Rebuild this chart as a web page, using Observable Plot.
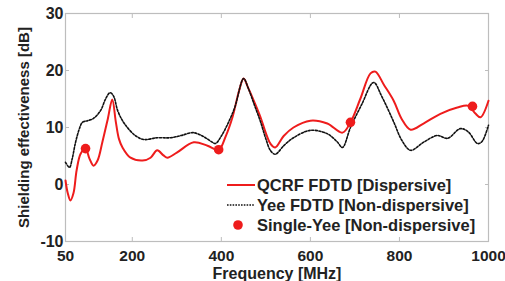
<!DOCTYPE html>
<html>
<head>
<meta charset="utf-8">
<script src="https://cdn.jsdelivr.net/npm/d3@7"></script>
<script src="https://cdn.jsdelivr.net/npm/@observablehq/plot@0.6"></script>
<style>
  html, body { margin: 0; padding: 0; background: #fff; }
  #chart { position: relative; width: 505px; height: 281px; font-family: "Liberation Sans", Arial, sans-serif; }
  #legend { position: absolute; left: 225px; top: 175px; font-weight: bold; font-size: 16.5px; color: #222; }
  #legend .row { display: flex; align-items: center; height: 20px; }
  #legend svg { width: 32px; height: 14px; margin-right: 0px; }
</style>
</head>
<body>
<div id="chart"></div>
<script>
// Shielding effectiveness vs. frequency
const qcrfFreq = [50, 55, 61, 68, 75, 84, 95, 104, 113, 122, 133, 145, 155, 163, 170, 178, 196, 223, 241, 256, 270, 279, 300, 338, 369, 394, 410, 425, 440, 450, 460, 474, 488, 500, 510, 521, 540, 562, 600, 638, 672, 690, 712, 735, 746, 765, 787, 805, 825, 854, 892, 930, 955, 970, 982, 1000];
const qcrfSE = [0.7, -1.5, -2.8, -1.5, 2.5, 5.4, 6.3, 4.5, 3.3, 4.2, 7.5, 11.5, 14.9, 11.0, 8.0, 6.5, 4.7, 4.2, 4.7, 6.0, 5.1, 4.7, 5.6, 7.4, 6.8, 6.1, 8.5, 11.8, 16.5, 18.6, 17.0, 14.5, 11.8, 9.0, 7.2, 6.5, 8.5, 10.0, 11.2, 10.7, 9.1, 10.9, 15.0, 19.5, 19.8, 17.5, 14.7, 11.5, 9.6, 10.7, 12.4, 13.5, 13.8, 12.5, 11.8, 14.7];

const yeeFreq = [50, 59, 65, 72, 80, 88, 100, 113, 129, 140, 150, 158, 167, 178, 189, 205, 225, 256, 286, 310, 337, 360, 380, 387, 400, 413, 430, 450, 460, 474, 488, 500, 510, 521, 540, 562, 600, 638, 660, 672, 690, 715, 742, 760, 787, 805, 825, 854, 885, 908, 937, 955, 975, 985, 1000];
const yeeSE = [3.9, 3.0, 4.5, 7.2, 9.5, 10.9, 11.2, 11.6, 13.0, 15.0, 16.1, 15.5, 13.0, 11.2, 10.0, 8.7, 7.9, 8.2, 8.2, 8.6, 9.1, 8.4, 7.4, 7.2, 8.5, 10.4, 13.5, 18.6, 17.0, 14.0, 11.0, 8.0, 6.0, 5.3, 6.8, 8.2, 9.5, 8.9, 7.5, 6.5, 10.0, 14.0, 17.9, 15.5, 11.0, 7.8, 6.0, 7.4, 8.6, 8.1, 9.8, 9.2, 7.2, 7.5, 10.4];

const singleFreq = [95, 394, 690, 964];
const singleSE = [6.3, 6.1, 10.9, 13.7];

const xTickLabels = [50, 200, 400, 600, 800, 1000];
const xTickMarks = [200, 400, 600, 800];
const yTickLabels = [-10, 0, 10, 20, 30];
const yTickMarks = [0, 10, 20];

const seriesNames = ["QCRF FDTD [Dispersive]", "Yee FDTD [Non-dispersive]", "Single-Yee [Non-dispersive]"];

const qcrf = qcrfFreq.map((f, i) => ({f, se: qcrfSE[i]}));
const yee = yeeFreq.map((f, i) => ({f, se: yeeSE[i]}));
const single = singleFreq.map((f, i) => ({f, se: singleSE[i]}));

const RED = "#ee1c1c";
const TEXT = "#222";
const plain = d => String(d);

const plot = Plot.plot({
  width: 505,
  height: 281,
  marginLeft: 65,
  marginRight: 17,
  marginTop: 13,
  marginBottom: 40,
  style: { fontFamily: "'Liberation Sans', Arial, sans-serif", background: "#fff", overflow: "visible" },
  x: { domain: [50, 1000] },
  y: { domain: [-10, 30] },
  marks: [
    Plot.frame({ stroke: "#bdbdbd", strokeWidth: 1.2 }),
    // inward tick marks on all four sides
    Plot.axisX(xTickMarks, { anchor: "bottom", tickSize: -4, stroke: "#bdbdbd", tickFormat: () => "", label: null }),
    Plot.axisX(xTickMarks, { anchor: "top", tickSize: -4, stroke: "#bdbdbd", tickFormat: () => "", label: null }),
    Plot.axisY(yTickMarks, { anchor: "left", tickSize: -4, stroke: "#bdbdbd", tickFormat: () => "", label: null }),
    Plot.axisY(yTickMarks, { anchor: "right", tickSize: -4, stroke: "#bdbdbd", tickFormat: () => "", label: null }),
    // tick labels and axis titles
    Plot.axisX(xTickLabels, {
      anchor: "bottom", tickSize: 0, tickPadding: 8, fontSize: 15.5, fontWeight: "bold", fill: TEXT,
      tickFormat: plain,
      label: "Frequency [MHz]", labelAnchor: "center", labelOffset: 37, labelArrow: "none"
    }),
    Plot.axisY(yTickLabels, {
      anchor: "left", tickSize: 0, tickPadding: 2, fontSize: 16, fontWeight: "bold", fill: TEXT,
      tickFormat: plain,
      label: "Shielding effectiveness [dB]", labelAnchor: "center", labelOffset: 47, labelArrow: "none"
    }),
    Plot.line(qcrf, { x: "f", y: "se", stroke: RED, strokeWidth: 2, curve: "catmull-rom" }),
    Plot.line(yee, { x: "f", y: "se", stroke: "#111", strokeWidth: 1.6, strokeDasharray: "2,1.6", curve: "catmull-rom" }),
    Plot.dot(single, { x: "f", y: "se", r: 4.8, fill: RED, stroke: "none" })
  ]
});

const chart = document.getElementById("chart");
chart.appendChild(plot);

// style the axis titles
plot.querySelectorAll("g[aria-label='x-axis label'] text").forEach(t => {
  t.setAttribute("font-size", "16");
  t.setAttribute("font-weight", "bold");
  t.setAttribute("fill", TEXT);
});
plot.querySelectorAll("g[aria-label='y-axis label'] text").forEach(t => {
  t.setAttribute("font-size", "15");
  t.setAttribute("font-weight", "bold");
  t.setAttribute("fill", TEXT);
});

// legend
const legend = document.createElement("div");
legend.id = "legend";
const swatches = [
  `<line x1="2" x2="30" y1="7" y2="7" stroke="${RED}" stroke-width="2"/>`,
  `<line x1="2" x2="30" y1="7" y2="7" stroke="#111" stroke-width="1.4" stroke-dasharray="1.6,1.2"/>`,
  `<circle cx="13" cy="7" r="4.8" fill="${RED}"/>`
];
seriesNames.forEach((name, i) => {
  const row = document.createElement("div");
  row.className = "row";
  row.innerHTML = `<svg viewBox="0 0 32 14">${swatches[i]}</svg><span>${name}</span>`;
  legend.appendChild(row);
});
chart.appendChild(legend);
</script>
</body>
</html>
